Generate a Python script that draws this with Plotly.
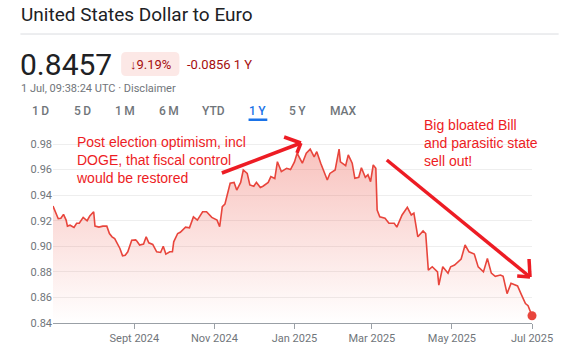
import plotly.graph_objects as go

# ---------------- data ----------------
dates = [
    "2024-07-01", "2024-07-03", "2024-07-05", "2024-07-07", "2024-07-09", "2024-07-11", "2024-07-12",
    "2024-07-14", "2024-07-17", "2024-07-19", "2024-07-21", "2024-07-24", "2024-07-26", "2024-07-27",
    "2024-07-29", "2024-08-01", "2024-08-02", "2024-08-05", "2024-08-08", "2024-08-11", "2024-08-13",
    "2024-08-15", "2024-08-17", "2024-08-19", "2024-08-21", "2024-08-23", "2024-08-25", "2024-08-27",
    "2024-08-30", "2024-09-02", "2024-09-03", "2024-09-05", "2024-09-08", "2024-09-10", "2024-09-12",
    "2024-09-15", "2024-09-18", "2024-09-21", "2024-09-23", "2024-09-25", "2024-09-28", "2024-09-30",
    "2024-10-01", "2024-10-04", "2024-10-06", "2024-10-10", "2024-10-13", "2024-10-16", "2024-10-19",
    "2024-10-23", "2024-10-26", "2024-10-30", "2024-11-03", "2024-11-05", "2024-11-07", "2024-11-09",
    "2024-11-13", "2024-11-16", "2024-11-18", "2024-11-21", "2024-11-23", "2024-11-26", "2024-11-28",
    "2024-12-01", "2024-12-03", "2024-12-06", "2024-12-08", "2024-12-12", "2024-12-14", "2024-12-17",
    "2024-12-19", "2024-12-22", "2024-12-26", "2024-12-29", "2025-01-01", "2025-01-03", "2025-01-05",
    "2025-01-07", "2025-01-10", "2025-01-13", "2025-01-16", "2025-01-18", "2025-01-21", "2025-01-23",
    "2025-01-26", "2025-01-28", "2025-02-01", "2025-02-04", "2025-02-05", "2025-02-09", "2025-02-11",
    "2025-02-14", "2025-02-16", "2025-02-19", "2025-02-21", "2025-02-24", "2025-02-26", "2025-02-28",
    "2025-03-02", "2025-03-04", "2025-03-05", "2025-03-07", "2025-03-11", "2025-03-14", "2025-03-18",
    "2025-03-20", "2025-03-24", "2025-03-28", "2025-03-31", "2025-04-02", "2025-04-05", "2025-04-09",
    "2025-04-11", "2025-04-13", "2025-04-16", "2025-04-20", "2025-04-21", "2025-04-24", "2025-04-28",
    "2025-04-30", "2025-05-03", "2025-05-08", "2025-05-11", "2025-05-14", "2025-05-18", "2025-05-21",
    "2025-05-25", "2025-05-28", "2025-05-31", "2025-06-03", "2025-06-07", "2025-06-09", "2025-06-12",
    "2025-06-15", "2025-06-18", "2025-06-20", "2025-06-23", "2025-06-26", "2025-06-28", "2025-07-01",
]
usd_eur = [
    0.9315, 0.9258, 0.9216, 0.9220, 0.9250, 0.9205, 0.9158,
    0.9165, 0.9148, 0.9180, 0.9180, 0.9226, 0.9205, 0.9200,
    0.9237, 0.9270, 0.9158, 0.9150, 0.9158, 0.9158, 0.9100,
    0.9074, 0.9060, 0.9023, 0.8983, 0.8925, 0.8930, 0.8957,
    0.9048, 0.9050, 0.9040, 0.9010, 0.9018, 0.9074, 0.9027,
    0.9015, 0.8957, 0.8952, 0.9000, 0.8939, 0.8957, 0.8957,
    0.9035, 0.9100, 0.9110, 0.9150, 0.9145, 0.9230, 0.9205,
    0.9270, 0.9270, 0.9226, 0.9205, 0.9153, 0.9310, 0.9330,
    0.9493, 0.9500, 0.9440, 0.9500, 0.9597, 0.9570, 0.9480,
    0.9470, 0.9500, 0.9460, 0.9470, 0.9500, 0.9545, 0.9530,
    0.9662, 0.9584, 0.9610, 0.9600, 0.9660, 0.9728, 0.9690,
    0.9650, 0.9728, 0.9760, 0.9700, 0.9740, 0.9650, 0.9597,
    0.9519, 0.9570, 0.9597, 0.9760, 0.9660, 0.9630, 0.9715,
    0.9650, 0.9532, 0.9540, 0.9615, 0.9540, 0.9560, 0.9506,
    0.9636, 0.9610, 0.9284, 0.9230, 0.9220, 0.9180, 0.9180,
    0.9150, 0.9245, 0.9305, 0.9245, 0.9260, 0.9074, 0.9120,
    0.9100, 0.8813, 0.8840, 0.8800, 0.8696, 0.8840, 0.8790,
    0.8840, 0.8853, 0.8900, 0.9010, 0.8957, 0.8940, 0.8839,
    0.8800, 0.8905, 0.8790, 0.8765, 0.8775, 0.8765, 0.8630,
    0.8710, 0.8700, 0.8690, 0.8620, 0.8552, 0.8535, 0.8457,
]
y_ticks = [0.84, 0.86, 0.88, 0.90, 0.92, 0.94, 0.96, 0.98]
x_tick_dates = ["2024-09-01", "2024-11-01", "2025-01-01", "2025-03-01", "2025-05-01", "2025-07-01"]
x_tick_labels = ["Sept 2024", "Nov 2024", "Jan 2025", "Mar 2025", "May 2025", "Jul 2025"]
tabs = ["1\u2009D", "5\u2009D", "1\u2009M", "6\u2009M", "YTD", "1\u2009Y", "5\u2009Y", "MAX"]
active_tab = "1\u2009Y"

title_text = "United States Dollar to Euro"
price_text = "0.8457"
pct_text = "\u21939.19%"
change_text = "-0.0856 1 Y"
stamp_text = "1 Jul, 09:38:24 UTC \u00b7 Disclaimer"
note_left = "Post election optimism, incl<br>DOGE, that fiscal control<br>would be restored"
note_right = "Big bloated Bill<br>and parasitic state<br>sell out!"

# ---------------- layout helpers ----------------
W, H = 565, 357
# plot area in page pixels: x 53..538, y 131..323
ML, MT = 53, 131
MR = W - 538
MB = H - 323
PW, PH = W - ML - MR, H - MT - MB


def px(x, y):
    """page pixel -> paper fraction"""
    return (x - ML) / PW, (H - MB - y) / PH


LINE_RED = "#e8453c"
NOTE_RED = "#ed1c24"
GREY = "#70757a"
UI_FONT = "Roboto, Arial, sans-serif"

fig = go.Figure()
fig.add_trace(go.Scatter(
    x=dates, y=usd_eur, mode="lines",
    line=dict(color=LINE_RED, width=1.6),
    fill="tozeroy",
    fillgradient=dict(type="vertical", start=y_ticks[0], stop=y_ticks[-1],
                      colorscale=[[0, "rgba(234,67,53,0.0)"], [1, "rgba(234,67,53,0.33)"]]),
    hoverinfo="skip", showlegend=False,
))
fig.add_trace(go.Scatter(
    x=[dates[-1]], y=[usd_eur[-1]], mode="markers",
    marker=dict(color=LINE_RED, size=9), cliponaxis=False,
    hoverinfo="skip", showlegend=False,
))

annotations = []
shapes = []


def add_text(x, y, text, size, color, anchor="left", family=UI_FONT, weight=None):
    ax, ay = px(x, y)
    f = dict(size=size, color=color, family=family)
    if weight:
        f["weight"] = weight
    annotations.append(dict(x=ax, y=ay, xref="paper", yref="paper", text=text, showarrow=False,
                            xanchor=anchor, yanchor="middle", font=f, align="left", borderpad=0))


def add_line(x0, y0, x1, y1, color, width):
    a0, b0 = px(x0, y0)
    a1, b1 = px(x1, y1)
    shapes.append(dict(type="line", xref="paper", yref="paper", x0=a0, y0=b0, x1=a1, y1=b1,
                       line=dict(color=color, width=width), layer="above"))


# header
add_text(20, 15, title_text, 19, "#202124")
add_line(20, 34, 565, 34, "#dadce0", 1)
add_text(19, 64, price_text, 30, "#202124")
# badge
bx0, by0 = px(122, 52)
bx1, by1 = px(181, 76)
rx, ry = 5 / PW, 5 / PH
shapes.append(dict(
    type="path", xref="paper", yref="paper", layer="below",
    path=(f"M {bx0+rx},{by0} L {bx1-rx},{by0} Q {bx1},{by0} {bx1},{by0-ry} "
          f"L {bx1},{by1+ry} Q {bx1},{by1} {bx1-rx},{by1} L {bx0+rx},{by1} "
          f"Q {bx0},{by1} {bx0},{by1+ry} L {bx0},{by0-ry} Q {bx0},{by0} {bx0+rx},{by0} Z"),
    fillcolor="#fce8e6", line=dict(width=0)))
add_text(152, 64, pct_text, 13, "#a50e0e", anchor="center")
add_text(188, 64, change_text, 13, "#a50e0e")
add_text(20, 88, stamp_text, 11, GREY)

tab_x = [40, 83, 126, 170, 216, 260, 301, 347]
for t, xc in zip(tabs, tab_x):
    add_text(xc, 111, t, 12, "#1a73e8" if t == active_tab else GREY, anchor="center", weight=500)
ux0, uy0 = px(251, 118.5)
ux1, uy1 = px(270, 121)
shapes.append(dict(type="rect", xref="paper", yref="paper", x0=ux0, y0=uy0, x1=ux1, y1=uy1,
                   fillcolor="#1a73e8", line=dict(width=0)))

# notes
NOTE_FONT = "Liberation Sans, Arial, sans-serif"
add_text(75, 160, note_left, 14, NOTE_RED, family=NOTE_FONT)
add_text(428, 143, note_right, 14, NOTE_RED, family=NOTE_FONT)

# arrows
add_line(224, 173, 304, 143, NOTE_RED, 3.5)
add_line(287, 137, 304, 143, NOTE_RED, 3.5)
add_line(300, 153, 304, 143, NOTE_RED, 3.5)
add_line(391, 160, 536, 277, NOTE_RED, 3.5)
add_line(535, 259, 536, 277, NOTE_RED, 3.5)
add_line(523, 276, 536, 277, NOTE_RED, 3.5)

fig.update_layout(
    width=W, height=H,
    margin=dict(l=ML, r=MR, t=MT, b=MB),
    paper_bgcolor="white", plot_bgcolor="white",
    font=dict(family=UI_FONT, color=GREY),
    annotations=annotations, shapes=shapes,
    hovermode=False,
    xaxis=dict(type="date", range=[dates[0], dates[-1]], tickvals=x_tick_dates, ticktext=x_tick_labels,
               ticks="outside", ticklen=5, tickcolor="#9aa0a6", showline=True, linecolor="#9aa0a6",
               linewidth=1, showgrid=False, zeroline=False, tickfont=dict(size=11, color=GREY),
               fixedrange=True),
    yaxis=dict(range=[0.84, 0.9902], tickvals=y_ticks, tickformat=".2f", showgrid=True,
               gridcolor="#eeeeee", zeroline=False, showline=False, ticks="",
               tickfont=dict(size=11, color=GREY), fixedrange=True),
)

fig.write_html("out.html", config={"displayModeBar": False},
               post_script="document.body.style.margin='0';")
